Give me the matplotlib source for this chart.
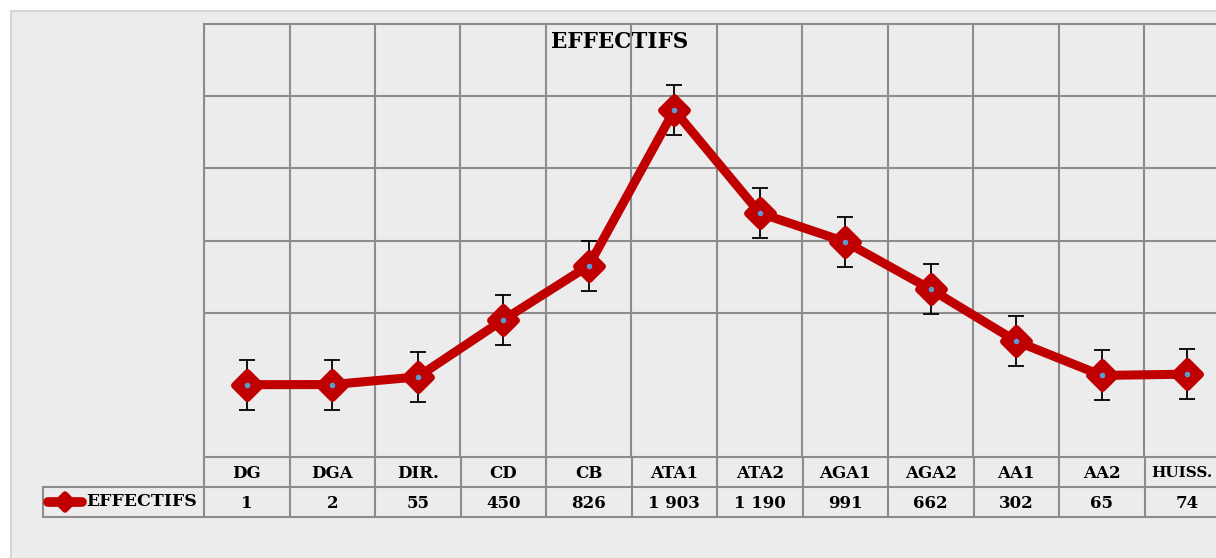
import numpy as np
import matplotlib
import matplotlib.pyplot as plt
from matplotlib.patches import Rectangle
from matplotlib.lines import Line2D
from matplotlib.markers import MarkerStyle

matplotlib.use('Agg')

# Données du graphique
categories = ['DG', 'DGA', 'DIR.', 'CD', 'CB', 'ATA1', 'ATA2', 'AGA1', 'AGA2', 'AA1', 'AA2', 'HUISS.']
effectifs = [1, 2, 55, 450, 826, 1903, 1190, 991, 662, 302, 65, 74]
labels_valeurs = ['1', '2', '55', '450', '826', '1 903', '1 190', '991', '662', '302', '65', '74']
erreur = 173  # barre d'erreur (erreur type)

W, H = 1216, 558
rouge = '#C00000'
gris_grille = '#8C8C8C'
police = ['DejaVu Serif']

fig = plt.figure(figsize=(W / 100, H / 100), dpi=100)
fig.patch.set_facecolor('white')

# fond de la zone du graphique
fond = fig.add_axes([0, 0, 1, 1])
fond.set_xlim(0, W)
fond.set_ylim(H, 0)
fond.axis('off')
fond.add_patch(Rectangle((11, 11), W, H, facecolor='#ECECEC', edgecolor='#D6D6D6', lw=1.5))

# zone de tracé
x0, x1, y0, y1 = 204, 1230, 24, 457
ax = fig.add_axes([x0 / W, 1 - y1 / H, (x1 - x0) / W, (y1 - y0) / H])
ax.set_facecolor('none')
x = np.arange(len(categories))
ax.set_xlim(-0.5, len(categories) - 0.5)
ax.set_ylim(-500, 2500)
for v in [500, 1000, 1500, 2000]:
    ax.axhline(v, color=gris_grille, lw=1.5, zorder=1)
for i in range(len(categories) + 1):
    ax.axvline(i - 0.5, color=gris_grille, lw=1.5, zorder=1)
for s in ax.spines.values():
    s.set_color(gris_grille)
    s.set_linewidth(1.5)
ax.set_xticks([])
ax.set_yticks([])

losange = MarkerStyle('D', joinstyle='round')
ax.errorbar(x, effectifs, yerr=erreur, fmt='none', ecolor='black', elinewidth=1.3,
            capsize=6, capthick=1.3, zorder=3)
ax.plot(x, effectifs, color=rouge, lw=6.5, zorder=4, solid_capstyle='round',
        solid_joinstyle='round')
ax.plot(x, effectifs, ls='none', marker=losange, ms=13, mfc=rouge, mec=rouge, mew=5,
        zorder=5)
ax.plot(x, effectifs, ls='none', marker='o', ms=3, color='#5B9BD5', zorder=6)

fond.text(620, 42, 'EFFECTIFS', ha='center', va='center', fontsize=15.5,
          fontweight='bold', family=police)

# tableau de données
cw = (x1 - x0) / len(categories)
r1, r2, r3 = 457, 487, 517
for i in range(len(categories) + 1):
    xx = x0 + i * cw
    fond.plot([xx, xx], [r1, r3], color=gris_grille, lw=1.5)
fond.plot([x0, x1], [r2, r2], color=gris_grille, lw=1.5)
fond.plot([43, x1], [r3, r3], color=gris_grille, lw=1.5)
fond.plot([43, x0], [r2, r2], color=gris_grille, lw=1.5)
fond.plot([43, 43], [r2, r3], color=gris_grille, lw=1.5)
for i, (c, v) in enumerate(zip(categories, labels_valeurs)):
    xc = x0 + (i + 0.5) * cw
    taille = 12
    if i == len(categories) - 1:
        # la dernière colonne est coupée par le bord : on garde le texte visible
        xc, taille = 1182, 11
    fond.text(xc, (r1 + r2) / 2 + 1, c, ha='center', va='center', fontsize=taille,
              fontweight='bold', family=police)
    fond.text(x0 + (i + 0.5) * cw, (r2 + r3) / 2 + 1, v, ha='center', va='center',
              fontsize=12, fontweight='bold', family=police)

# légende
fond.add_line(Line2D([48, 82], [502, 502], color=rouge, lw=7, solid_capstyle='round'))
fond.plot([65], [502], marker=losange, ms=8, mew=4, color=rouge)
fond.text(86, 501, 'EFFECTIFS', ha='left', va='center', fontsize=12.5,
          fontweight='bold', family=police)

fig.savefig('out.png', dpi=100, facecolor='white')
